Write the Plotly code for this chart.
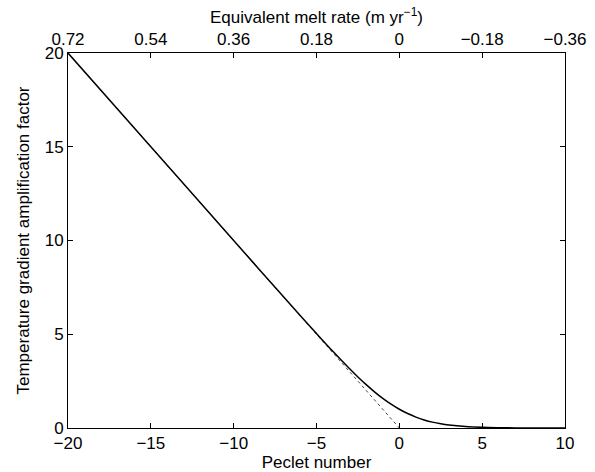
import plotly.graph_objects as go

# Peclet number and amplification factor
peclet = [-20, -15, -10, -8, -6, -5, -4, -3, -2.5, -2, -1.5, -1, -0.5, 0,
          0.5, 1, 1.5, 2, 2.5, 3, 4, 5, 6, 7, 8, 10]
amplification = [20.0, 15.0, 10.0005, 8.0027, 6.0149, 5.0339, 4.0746, 3.1572,
                 2.7236, 2.3130, 1.9308, 1.5820, 1.2707, 1.0, 0.7707, 0.5820,
                 0.4308, 0.3130, 0.2236, 0.1572, 0.0746, 0.0339, 0.0149,
                 0.0064, 0.0027, 0.00045]
# Asymptote (dotted)
asym_x = [-20, 0]
asym_y = [20, 0]

bottom_ticks = [-20, -15, -10, -5, 0, 5, 10]
top_labels = ["0.72", "0.54", "0.36", "0.18", "0", "\u22120.18", "\u22120.36"]
y_ticks = [0, 5, 10, 15, 20]

font = dict(family="Liberation Sans, Arial, sans-serif", size=17, color="black")

fig = go.Figure()
fig.add_trace(go.Scatter(x=asym_x, y=asym_y, mode="lines",
                         line=dict(color="#444444", width=1, dash="dot"),
                         showlegend=False, hoverinfo="skip"))
fig.add_trace(go.Scatter(x=peclet, y=amplification, mode="lines",
                         line=dict(color="black", width=1.5, shape="spline"),
                         showlegend=False))
fig.add_trace(go.Scatter(x=[bottom_ticks[0]], y=[0], xaxis="x2", mode="markers",
                         marker=dict(opacity=0), showlegend=False, hoverinfo="skip"))

axis_common = dict(showline=True, linecolor="black", linewidth=1, ticks="inside",
                   ticklen=5, tickcolor="black", showgrid=False, zeroline=False,
                   tickfont=font, automargin=False)

fig.update_layout(
    width=595, height=472,
    margin=dict(l=68, r=30, t=53, b=44),
    plot_bgcolor="white", paper_bgcolor="white",
    font=font,
    xaxis=dict(range=[-20, 10], tickvals=bottom_ticks, mirror=True,
               title=dict(text="Peclet number", font=font, standoff=0),
               **axis_common),
    xaxis2=dict(range=[-20, 10], overlaying="x", side="top", anchor="y",
                tickvals=bottom_ticks, ticktext=top_labels,
                title=dict(text="Equivalent melt rate (m yr<sup>\u22121</sup>)", font=font, standoff=2),
                **axis_common),
    yaxis=dict(range=[0, 20], tickvals=y_ticks, mirror="ticks",
               title=dict(text="Temperature gradient amplification factor", font=font, standoff=10),
               **axis_common),
)

fig.write_html("out.html")
